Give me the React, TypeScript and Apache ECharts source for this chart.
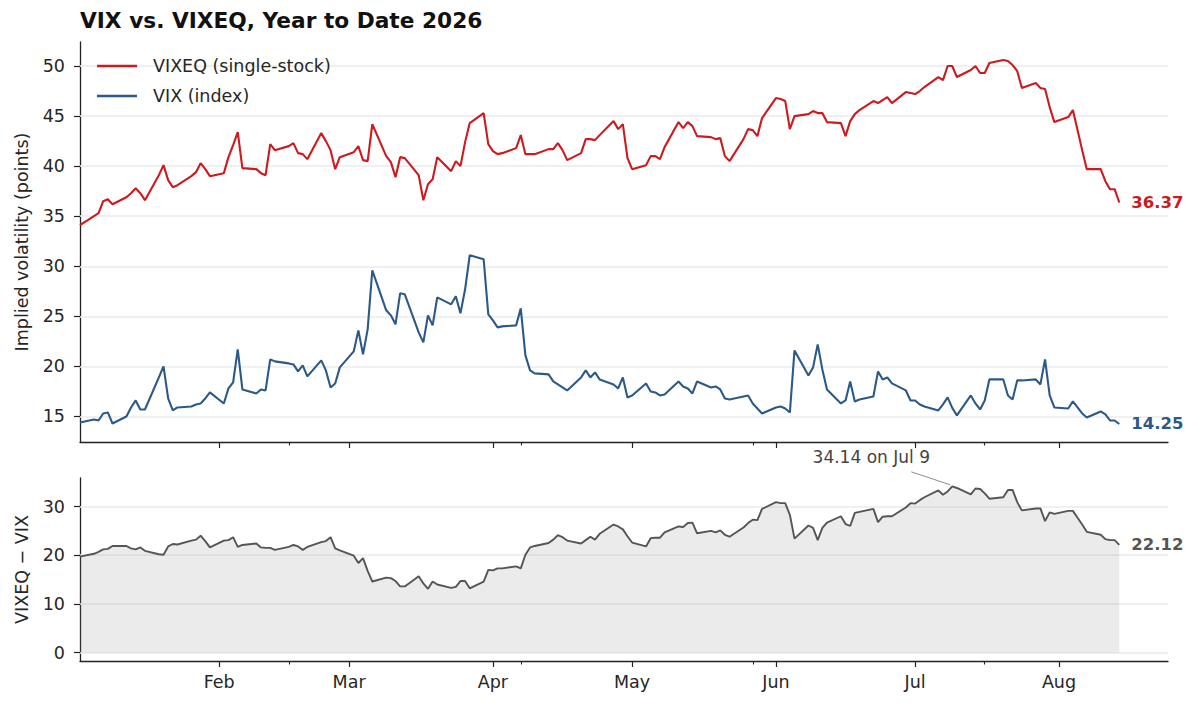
import React, { useEffect, useRef } from "react";
import * as echarts from "echarts";

// ---- data ----
const FIRST_DAY = "2026-01-02"; // first trading day, weekdays thereafter
const AXIS_END = "2026-08-24T12:00:00Z";

const VIXEQ = [
  // Jan
  34.1, 35.0, 35.3, 36.5, 36.7, 36.2, 36.9, 37.3, 37.8, 37.3, 36.6, 39.1, 40.1, 38.6, 37.9, 38.1, 39.0, 39.4, 40.3, 39.7, 39.0,
  // Feb
  39.3, 40.9, 42.1, 43.4, 39.8, 39.7, 39.3, 39.1, 42.2, 41.6, 42.0, 42.3, 41.3, 41.2, 40.7, 43.3, 42.5, 41.6, 39.7, 40.9,
  // Mar
  41.4, 42.0, 40.6, 40.5, 44.2, 41.0, 40.4, 38.9, 40.9, 40.8, 39.1, 36.6, 38.2, 38.7, 40.9, 39.5, 40.5, 40.0, 42.4, 44.3, 45.3, 42.2,
  // Apr
  41.5, 41.2, 41.3, 41.8, 43.1, 41.2, 41.2, 41.2, 41.7, 41.7, 42.3, 41.6, 40.6, 41.3, 42.7, 42.7, 42.6, 43.1, 44.5, 43.7, 44.2, 40.8,
  // May
  39.7, 40.1, 41.0, 41.0, 40.7, 41.9, 44.4, 43.8, 44.4, 44.0, 43.0, 42.9, 42.7, 42.8, 41.0, 40.5, 42.7, 43.7, 43.6, 43.0, 44.8,
  // Jun
  46.8, 46.7, 46.5, 43.7, 45.0, 45.2, 45.5, 45.3, 45.3, 44.4, 44.3, 43.0, 44.5, 45.2, 45.6, 46.5, 46.3, 46.6, 46.9, 46.3, 47.4, 47.3,
  // Jul
  47.2, 47.5, 47.9, 48.9, 48.6, 50.0, 50.0, 48.9, 49.6, 50.0, 49.3, 49.3, 50.3, 50.6, 50.5, 50.1, 49.5, 47.8, 48.3, 47.8, 47.7, 45.9, 44.4,
  // Aug
  44.9, 45.6, 43.6, 41.6, 39.7, 39.7, 38.5, 37.7, 37.7, 36.37,
];

const VIX = [
  // Jan
  14.4, 14.7, 14.6, 15.3, 15.4, 14.3, 15.0, 15.9, 16.6, 15.7, 15.7, 18.9, 20.0, 16.8, 15.6, 15.9, 16.0, 16.2, 16.3, 16.8, 17.4,
  // Feb
  16.3, 17.8, 18.4, 21.7, 17.7, 17.3, 17.7, 17.6, 20.7, 20.5, 20.3, 20.2, 19.5, 20.1, 19.0, 20.6, 19.6, 17.9, 18.3, 19.9,
  // Mar
  21.5, 23.6, 21.2, 23.7, 29.6, 25.6, 25.1, 24.2, 27.3, 27.2, 23.4, 22.4, 25.1, 24.1, 26.9, 26.2, 27.0, 25.3, 27.7, 31.1, 30.7, 25.2,
  // Apr
  24.6, 23.9, 24.0, 24.1, 25.8, 21.1, 19.6, 19.3, 19.2, 18.5, 18.2, 17.9, 17.6, 18.9, 19.6, 18.9, 19.4, 18.7, 18.2, 17.8, 18.9, 16.9,
  // May
  17.1, 18.3, 17.5, 17.4, 17.1, 17.2, 18.5, 18.0, 17.8, 17.3, 18.5, 17.9, 18.0, 17.7, 16.8, 16.7, 17.0, 17.1, 16.3, 15.8, 15.3,
  // Jun
  15.9, 16.0, 15.8, 15.4, 21.6, 19.1, 19.9, 22.2, 19.7, 17.7, 16.3, 16.6, 18.5, 16.5, 16.7, 17.0, 19.5, 18.7, 18.9, 18.3, 17.6, 16.6,
  // Jul
  16.6, 16.2, 16.0, 15.6, 16.2, 16.9, 15.86, 15.1, 17.1, 16.3, 15.7, 16.6, 18.7, 18.7, 17.1, 16.7, 18.6, 18.6, 18.7, 18.2, 20.7, 17.1, 15.9,
  // Aug
  15.8, 16.5, 15.9, 15.3, 14.9, 15.5, 15.2, 14.6, 14.6, 14.25,
];

const TOP_TICKS = [15, 20, 25, 30, 35, 40, 45, 50];
const BOTTOM_TICKS = [0, 10, 20, 30];
const MONTH_TICKS = ["2026-02-01", "2026-03-01", "2026-04-01", "2026-05-01", "2026-06-01", "2026-07-01", "2026-08-01"];
const MINOR_TICKS = ["2026-02-16", "2026-04-07", "2026-05-27", "2026-07-16"];
const MONTH_NAMES = ["Jan", "Feb", "Mar", "Apr", "May", "Jun", "Jul", "Aug", "Sep", "Oct", "Nov", "Dec"];

const FONT = "DejaVu Sans";
const RED = "#cc1a1f";
const BLUE = "#2b5a88";
const GRAY = "#555555";

function businessDays(start: string, count: number): number[] {
  const out: number[] = [];
  let t = Date.parse(start + "T00:00:00Z");
  while (out.length < count) {
    const wd = new Date(t).getUTCDay();
    if (wd !== 0 && wd !== 6) out.push(t);
    t += 86400000;
  }
  return out;
}

export default function App() {
  const ref = useRef<HTMLDivElement>(null);

  useEffect(() => {
    document.body.style.margin = "0";
    if (!ref.current) return;
    const chart = echarts.init(ref.current, null, { renderer: "svg" });

    const dates = businessDays(FIRST_DAY, VIXEQ.length);
    const gap = VIXEQ.map((v, i) => +(v - VIX[i]).toFixed(2));
    const xMin = dates[0];
    const xMax = Date.parse(AXIS_END);
    const monthVals = MONTH_TICKS.map((d) => Date.parse(d + "T00:00:00Z"));
    const minorVals = MINOR_TICKS.map((d) => Date.parse(d + "T00:00:00Z"));

    const axisColor = "#222222";
    const labelStyle = { fontFamily: FONT, fontSize: 17.5, color: "#262626" };

    const xBase = (gridIndex: number, showLabels: boolean) => ({
      type: "value",
      gridIndex,
      min: xMin,
      max: xMax,
      axisLine: { show: true, onZero: false, lineStyle: { color: axisColor, width: 1.3 } },
      axisTick: { show: true, customValues: monthVals, length: 6, lineStyle: { color: axisColor, width: 1.2 } },
      axisLabel: {
        show: showLabels,
        customValues: monthVals,
        formatter: (v: number) => MONTH_NAMES[new Date(v).getUTCMonth()],
        margin: 12,
        ...labelStyle,
      },
      splitLine: { show: false },
    });
    const xMinor = (gridIndex: number) => ({
      type: "value",
      gridIndex,
      min: xMin,
      max: xMax,
      position: "bottom",
      axisLine: { show: false, onZero: false },
      axisTick: { show: true, customValues: minorVals, length: 3.5, lineStyle: { color: axisColor, width: 1.1 } },
      axisLabel: { show: false },
      splitLine: { show: false },
    });
    const yBase = (gridIndex: number, min: number, max: number, ticks: number[], name: string) => ({
      type: "value",
      gridIndex,
      min,
      max,
      name,
      nameLocation: "middle",
      nameGap: 49,
      nameTextStyle: { fontFamily: FONT, fontSize: 17.5, color: "#262626" },
      axisLine: { show: true, onZero: false, lineStyle: { color: axisColor, width: 1.3 } },
      axisTick: { show: true, customValues: ticks, length: 6, lineStyle: { color: axisColor, width: 1.2 } },
      axisLabel: { customValues: ticks, margin: 15, ...labelStyle },
      splitLine: { show: false },
    });
    const gridLines = (xi: number, yi: number, ticks: number[]) => ({
      type: "line",
      xAxisIndex: xi,
      yAxisIndex: yi,
      data: [],
      silent: true,
      z: 1,
      markLine: {
        silent: true,
        symbol: ["none", "none"],
        label: { show: false },
        lineStyle: { color: "#ebebeb", width: 1.5, type: "solid" },
        data: ticks.map((v) => ({ yAxis: v })),
        animation: false,
      },
    });
    const endLabel = (color: string) => ({
      show: true,
      distance: 12,
      formatter: (p: any) => Number(p.value[1]).toFixed(2),
      fontFamily: FONT,
      fontSize: 16.5,
      fontWeight: "bold",
      color,
    });

    chart.setOption({
      animation: false,
      textStyle: { fontFamily: FONT },
      title: {
        text: "VIX vs. VIXEQ, Year to Date 2026",
        left: 80,
        top: 9,
        padding: 0,
        textStyle: { fontFamily: FONT, fontSize: 21.7, fontWeight: "bold", color: "#111111" },
      },
      legend: {
        orient: "vertical",
        left: 97,
        top: 56,
        padding: 0,
        z: 30,
        icon: "rect",
        itemWidth: 40,
        itemHeight: 2.5,
        itemGap: 10,
        selectedMode: false,
        data: ["VIXEQ (single-stock)", "VIX (index)"],
        textStyle: { fontFamily: FONT, fontSize: 17.5, color: "#262626", lineHeight: 20, padding: [0, 0, 0, 11] },
      },
      grid: [
        { left: 80, top: 42, width: 1088, height: 400 },
        { left: 80, top: 478, width: 1088, height: 183 },
      ],
      xAxis: [xBase(0, false), xBase(1, true), xMinor(0), xMinor(1)],
      yAxis: [
        yBase(0, 12.45, 52.4, TOP_TICKS, "Implied volatility (points)"),
        yBase(1, -1.71, 35.85, BOTTOM_TICKS, "VIXEQ \u2212 VIX"),
      ],
      series: [
        gridLines(0, 0, TOP_TICKS),
        gridLines(1, 1, BOTTOM_TICKS),
        {
          name: "VIXEQ (single-stock)",
          type: "line",
          xAxisIndex: 0,
          yAxisIndex: 0,
          data: dates.map((t, i) => [t, VIXEQ[i]]),
          showSymbol: false,
          symbol: "none",
          z: 10,
          lineStyle: { color: RED, width: 2.1 },
          itemStyle: { color: RED },
          endLabel: endLabel(RED),
        },
        {
          name: "VIX (index)",
          type: "line",
          xAxisIndex: 0,
          yAxisIndex: 0,
          data: dates.map((t, i) => [t, VIX[i]]),
          showSymbol: false,
          symbol: "none",
          z: 10,
          lineStyle: { color: BLUE, width: 2.1 },
          itemStyle: { color: BLUE },
          endLabel: endLabel(BLUE),
        },
        {
          name: "gap",
          type: "line",
          xAxisIndex: 1,
          yAxisIndex: 1,
          data: dates.map((t, i) => [t, gap[i]]),
          showSymbol: false,
          symbol: "none",
          z: 10,
          lineStyle: { color: GRAY, width: 1.9 },
          itemStyle: { color: GRAY },
          areaStyle: { color: "rgba(128,128,128,0.16)", opacity: 1, origin: "auto" },
          endLabel: endLabel(GRAY),
        },
      ],
    });

    // peak annotation, positioned from the axis scales
    let peakIdx = 0;
    gap.forEach((g, i) => {
      if (g > gap[peakIdx]) peakIdx = i;
    });
    const pk = chart.convertToPixel({ xAxisIndex: 1, yAxisIndex: 1 } as any, [dates[peakIdx], gap[peakIdx]]) as number[];
    const pd = new Date(dates[peakIdx]);
    const peakText = `${gap[peakIdx].toFixed(2)} on ${MONTH_NAMES[pd.getUTCMonth()]} ${pd.getUTCDate()}`;
    if (pk && isFinite(pk[0])) {
      chart.setOption({
        graphic: [
          {
            type: "line",
            silent: true,
            shape: { x1: pk[0] - 41, y1: pk[1] - 14.5, x2: pk[0] - 2, y2: pk[1] - 1.5 },
            style: { stroke: "#8c8c8c", lineWidth: 1 },
            z: 20,
          },
          {
            type: "text",
            silent: true,
            x: pk[0] - 81,
            y: pk[1] - 29,
            style: {
              text: peakText,
              fontFamily: FONT,
              fontSize: 17,
              fill: "#444444",
              align: "center",
              verticalAlign: "middle",
            },
            z: 20,
          },
        ],
      });
    }

    return () => chart.dispose();
  }, []);

  return <div ref={ref} style={{ width: 1200, height: 708 }} />;
}
